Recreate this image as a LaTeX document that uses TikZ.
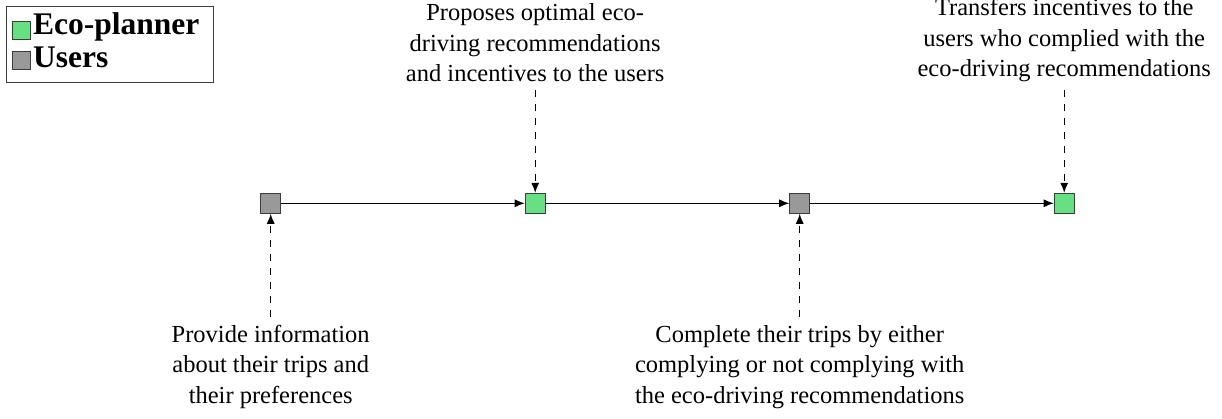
\documentclass[tikz,border=0pt]{standalone}
\usepackage{fontspec}
\setmainfont{Liberation Serif}
\usetikzlibrary{arrows.meta}
\definecolor{ecogreen}{RGB}{102,224,130}
\definecolor{usergray}{RGB}{153,153,153}
\definecolor{edgegray}{RGB}{60,60,60}
\begin{document}
\begin{tikzpicture}[x=1pt,y=-1pt,
  stage/.style={draw=edgegray, line width=1pt, minimum size=20pt, inner sep=0pt},
  eco/.style={stage, fill=ecogreen},
  usr/.style={stage, fill=usergray},
  desc/.style={font=\fontsize{24.5}{30.5}\selectfont, align=center, inner sep=8pt},
  flow/.style={-{Latex[length=10pt,width=8pt]}, line width=1pt},
  link/.style={-{Latex[length=10pt,width=8pt]}, line width=1pt, dash pattern=on 7pt off 7pt},
  legtext/.style={font=\fontsize{31.5}{33}\selectfont\bfseries, anchor=base west, inner sep=0pt},
  legsq/.style={draw=edgegray, line width=0.8pt, minimum size=18pt, inner sep=0pt}]
\useasboundingbox (0,0) rectangle (1222,419);

% legend
\node[draw=edgegray, line width=1pt, minimum width=207pt, minimum height=76pt, anchor=north west, inner sep=0pt] (legend) at (6,6) {};
\node[legsq, fill=ecogreen] (lsq1) at (21,30) {};
\node[legtext] (ltx1) at (33,35) {Eco-planner};
\node[legsq, fill=usergray] (lsq2) at (21,60.5) {};
\node[legtext] (ltx2) at (33,68) {Users};

% stages
\node[usr] (u1) at (270.7,203.3) {};
\node[eco] (e1) at (535.2,203.3) {};
\node[usr] (u2) at (799.7,203.3) {};
\node[eco] (e2) at (1064.2,203.3) {};
\draw[flow] (u1) -- (e1);
\draw[flow] (e1) -- (u2);
\draw[flow] (u2) -- (e2);

% descriptions
\node[desc, anchor=south] (t2) at (535.2,90) {Proposes optimal eco-\\driving recommendations\\and incentives to the users};
\node[desc, anchor=south] (t4) at (1064.2,90) {Transfers incentives to the\\users who complied with the\\eco-driving recommendations};
\node[desc, anchor=north] (t1) at (270.7,317) {Provide information\\about their trips and\\their preferences};
\node[desc, anchor=north] (t3) at (799.7,317) {Complete their trips by either\\complying or not complying with\\the eco-driving recommendations};

\draw[link] (t2.south) -- (e1.north);
\draw[link] (t4.south) -- (e2.north);
\draw[link] (t1.north) -- (u1.south);
\draw[link] (t3.north) -- (u2.south);
\end{tikzpicture}
\end{document}
